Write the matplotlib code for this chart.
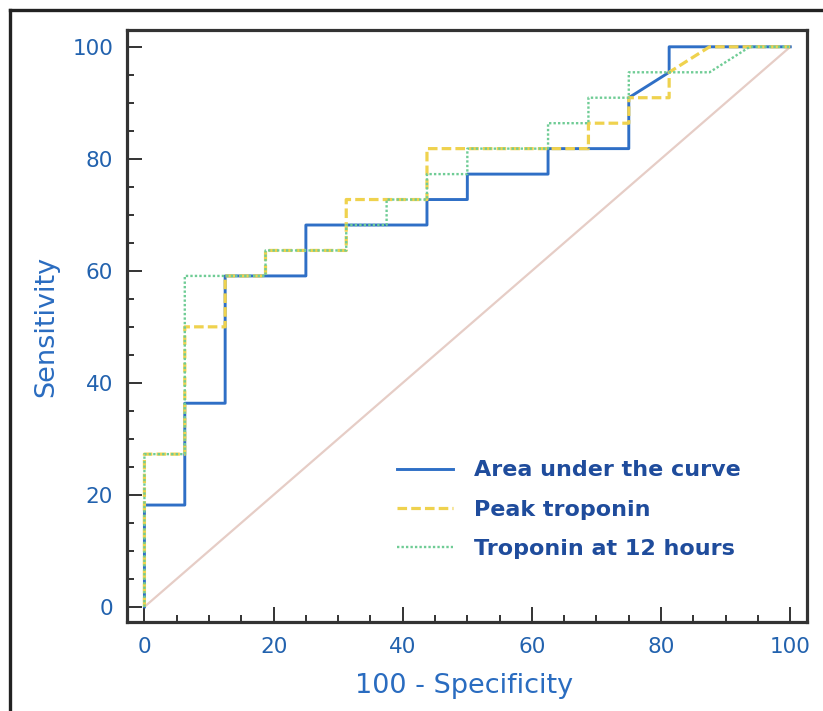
import matplotlib
matplotlib.use("Agg")
import matplotlib.pyplot as plt
from matplotlib.lines import Line2D
from matplotlib.ticker import MultipleLocator

# ROC step curves (100 - specificity, sensitivity)
auc_x = [0, 0, 6.25, 6.25, 12.5, 12.5, 25, 25, 43.75, 43.75, 50, 50,
         62.5, 62.5, 75, 75, 81.25, 81.25, 100]
auc_y = [0, 18.18, 18.18, 36.36, 36.36, 59.09, 59.09, 68.18, 68.18, 72.73,
         72.73, 77.27, 77.27, 81.82, 81.82, 90.91, 95.45, 100, 100]

peak_x = [0, 0, 6.25, 6.25, 12.5, 12.5, 18.75, 18.75, 31.25, 31.25, 43.75,
          43.75, 68.75, 68.75, 75, 75, 81.25, 81.25, 87.5, 100]
peak_y = [0, 27.27, 27.27, 50, 50, 59.09, 59.09, 63.64, 63.64, 72.73, 72.73,
          81.82, 81.82, 86.36, 86.36, 90.91, 90.91, 95.45, 100, 100]

t12_x = [0, 0, 6.25, 6.25, 18.75, 18.75, 31.25, 31.25, 37.5, 37.5, 43.75,
         43.75, 50, 50, 62.5, 62.5, 68.75, 68.75, 75, 75, 87.5, 93.75, 100]
t12_y = [0, 27.27, 27.27, 59.09, 59.09, 63.64, 63.64, 68.18, 68.18, 72.73,
         72.73, 77.27, 77.27, 81.82, 81.82, 86.36, 86.36, 90.91, 90.91, 95.45,
         95.45, 100, 100]

labels = ["Area under the curve", "Peak troponin", "Troponin at 12 hours"]
ticks = [0, 20, 40, 60, 80, 100]

txt_blue = "#2262ae"
fig = plt.figure(figsize=(8.23, 7.11), dpi=100)
ax = fig.add_axes([0.1543, 0.1252, 0.8263, 0.8326])

# chance line
ax.plot([0, 100], [0, 100], color="#e6cdc6", lw=1.6, zorder=1)
ax.plot(auc_x, auc_y, color="#2f6fc6", lw=2.1, ls="-", label=labels[0], zorder=3)
ax.plot(peak_x, peak_y, color="#efd24e", lw=2.3, ls=(0, (3, 1.3)), label=labels[1], zorder=4)
ax.plot(t12_x, t12_y, color="#6fcc95", lw=1.7, ls=(0, (1, 0.9)), label=labels[2], zorder=5)

ax.set_xlim(-2.7, 102.6)
ax.set_ylim(-2.7, 103.0)
ax.set_xticks(ticks)
ax.set_yticks(ticks)
ax.xaxis.set_minor_locator(MultipleLocator(5))
ax.yaxis.set_minor_locator(MultipleLocator(5))
ax.tick_params(which="both", direction="in", color="#333333", width=1.4,
               top=False, right=False)
ax.tick_params(which="major", length=11)
ax.tick_params(which="minor", length=5)
ax.tick_params(axis="x", which="major", labelsize=15.5, labelcolor=txt_blue, pad=11)
ax.tick_params(axis="y", which="major", labelsize=15.5, labelcolor=txt_blue, pad=10)
for sp in ax.spines.values():
    sp.set_linewidth(2.3)
    sp.set_color("#333333")

ax.set_xlabel("100 - Specificity", fontsize=19.5, color="#2a6cc0")
ax.set_ylabel("Sensitivity", fontsize=19.5, color="#2a6cc0")
ax.xaxis.set_label_coords(0.496, -0.086)
ax.yaxis.set_label_coords(-0.100, 0.5)

leg = ax.legend(loc="upper left", bbox_to_anchor=(0.397, 0.273), frameon=False,
                borderpad=0, borderaxespad=0, handlelength=2.5, handletextpad=0.95,
                labelspacing=0.87, prop={"size": 16, "weight": "bold"})
for t in leg.get_texts():
    t.set_color("#1f4c9c")

# outer frame of the figure (left and top only visible)
fig.add_artist(Line2D([0.0122, 0.0122], [0, 0.986], color="#222222", lw=2.4,
                      transform=fig.transFigure))
fig.add_artist(Line2D([0.0122, 1.0], [0.986, 0.986], color="#222222", lw=2.4,
                      transform=fig.transFigure))

fig.savefig("out.png", dpi=100, facecolor="white")
